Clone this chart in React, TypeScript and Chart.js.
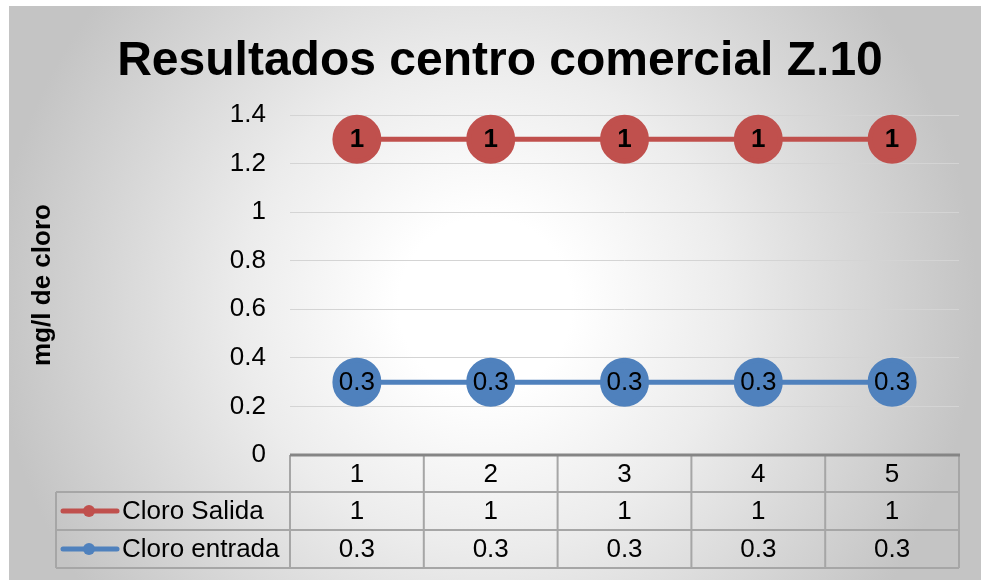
import React, { useEffect, useRef } from "react";
import { Chart, registerables } from "chart.js";

Chart.register(...registerables);

const chartTitle = "Resultados centro comercial Z.10";
const yAxisTitle = "mg/l de cloro";
const categories = ["1", "2", "3", "4", "5"];
const seriesNames = ["Cloro Salida", "Cloro entrada"];
const salidaValues = [1.3, 1.3, 1.3, 1.3, 1.3];
const salidaLabels = ["1", "1", "1", "1", "1"];
const entradaValues = [0.3, 0.3, 0.3, 0.3, 0.3];
const entradaLabels = ["0.3", "0.3", "0.3", "0.3", "0.3"];
const yTickLabels = ["0", "0.2", "0.4", "0.6", "0.8", "1", "1.2", "1.4"];
const yMin = 0;
const yMax = 1.4;
const yStep = 0.2;

const RED = "#C0504D";
const BLUE = "#4F81BD";
const FONT = "'Liberation Sans', Arial, sans-serif";

const pointLabels = [salidaLabels, entradaLabels];
const labelWeights = ["bold", "normal"];
const seriesColors = [RED, BLUE];

const decorPlugin = {
  id: "decor",
  afterDatasetsDraw(chart: any) {
    const ctx = chart.ctx;
    ctx.save();
    ctx.fillStyle = "#000";
    ctx.textAlign = "center";
    ctx.textBaseline = "middle";
    chart.data.datasets.forEach((ds: any, di: number) => {
      const meta = chart.getDatasetMeta(di);
      ctx.font = `${labelWeights[di]} 26px ${FONT}`;
      meta.data.forEach((pt: any, i: number) => {
        ctx.fillText(pointLabels[di][i], pt.x, pt.y + 1);
      });
    });
    ctx.restore();
  },
  afterDraw(chart: any) {
    const ctx = chart.ctx;
    const area = chart.chartArea;
    ctx.save();
    // title
    ctx.fillStyle = "#000";
    ctx.font = `bold 48px ${FONT}`;
    ctx.textAlign = "center";
    ctx.textBaseline = "alphabetic";
    ctx.fillText(chartTitle, 491, 69);
    // y axis title
    ctx.save();
    ctx.translate(34, (area.top + area.bottom) / 2);
    ctx.rotate(-Math.PI / 2);
    ctx.font = `bold 26px ${FONT}`;
    ctx.textBaseline = "middle";
    ctx.fillText(yAxisTitle, 0, 0);
    ctx.restore();

    // data table
    const n = categories.length;
    const colW = (area.right - area.left) / n;
    const top = area.bottom;
    const r1 = top + 37;
    const r2 = top + 75;
    const r3 = top + 113;
    const legendLeft = 47;
    ctx.strokeStyle = "#a6a6a6";
    ctx.lineWidth = 2;
    ctx.beginPath();
    ctx.moveTo(legendLeft, r1);
    ctx.lineTo(area.right, r1);
    ctx.moveTo(legendLeft, r2);
    ctx.lineTo(area.right, r2);
    ctx.moveTo(legendLeft, r3);
    ctx.lineTo(area.right, r3);
    for (let i = 0; i <= n; i++) {
      const x = area.left + i * colW;
      ctx.moveTo(x, top);
      ctx.lineTo(x, r3);
    }
    ctx.moveTo(legendLeft, r1);
    ctx.lineTo(legendLeft, r3);
    ctx.stroke();
    // thick axis line
    ctx.strokeStyle = "#858585";
    ctx.lineWidth = 3;
    ctx.beginPath();
    ctx.moveTo(area.left, top);
    ctx.lineTo(area.right + 1, top);
    ctx.stroke();

    // table texts
    ctx.fillStyle = "#000";
    ctx.font = `26px ${FONT}`;
    ctx.textAlign = "center";
    ctx.textBaseline = "middle";
    const xs = chart.scales.x;
    categories.forEach((c, i) => {
      const x = xs.getPixelForValue(i);
      ctx.fillText(c, x, (top + r1) / 2 + 1);
      ctx.fillText(salidaLabels[i], x, (r1 + r2) / 2 + 1);
      ctx.fillText(entradaLabels[i], x, (r2 + r3) / 2 + 1);
    });
    // legend keys
    const rowMids = [(r1 + r2) / 2, (r2 + r3) / 2];
    seriesNames.forEach((name, si) => {
      const y = rowMids[si];
      ctx.strokeStyle = seriesColors[si];
      ctx.lineWidth = 5;
      ctx.lineCap = "round";
      ctx.beginPath();
      ctx.moveTo(54, y);
      ctx.lineTo(108, y);
      ctx.stroke();
      ctx.fillStyle = seriesColors[si];
      ctx.beginPath();
      ctx.arc(80, y, 6, 0, Math.PI * 2);
      ctx.fill();
      ctx.fillStyle = "#000";
      ctx.textAlign = "left";
      ctx.fillText(name, 113, y + 1);
    });
    ctx.restore();
  },
};

export default function App() {
  const ref = useRef<HTMLCanvasElement | null>(null);
  useEffect(() => {
    if (!ref.current) return;
    const chart = new Chart(ref.current, {
      type: "line",
      data: {
        labels: categories,
        datasets: [
          {
            label: seriesNames[0],
            data: salidaValues,
            borderColor: RED,
            backgroundColor: RED,
            pointBackgroundColor: RED,
            pointBorderColor: RED,
            borderWidth: 5,
            pointRadius: 22,
            pointHoverRadius: 22,
            clip: false,
          },
          {
            label: seriesNames[1],
            data: entradaValues,
            borderColor: BLUE,
            backgroundColor: BLUE,
            pointBackgroundColor: BLUE,
            pointBorderColor: BLUE,
            borderWidth: 5,
            pointRadius: 22,
            pointHoverRadius: 22,
            clip: false,
          },
        ],
      },
      options: {
        responsive: false,
        animation: false,
        devicePixelRatio: 1,
        layout: {
          autoPadding: false,
          padding: { left: 0, right: 22, top: 109, bottom: 125 },
        },
        plugins: {
          legend: { display: false },
          title: { display: false },
          tooltip: { enabled: false },
        },
        scales: {
          x: {
            type: "category",
            offset: true,
            display: false,
          },
          y: {
            min: yMin,
            max: yMax,
            border: { display: false },
            grid: { color: "#d4d4d4", lineWidth: 1, drawTicks: false },
            ticks: {
              stepSize: yStep,
              padding: 24,
              color: "#000",
              font: { size: 26, family: FONT },
              callback: (_v: any, i: number) => yTickLabels[i],
            },
            afterFit(scale: any) {
              scale.width = 281;
            },
          },
        },
      },
      plugins: [decorPlugin],
    });
    return () => chart.destroy();
  }, []);

  return (
    <div
      style={{
        position: "absolute",
        left: 9,
        top: 6,
        width: 972,
        height: 574,
        background:
          "radial-gradient(circle at 49% 52%, #ffffff 0%, #ffffff 15%, #ececec 42%, #c4c4c4 85%)",
      }}
    >
      <canvas ref={ref} width={972} height={574} style={{ display: "block" }} />
    </div>
  );
}
